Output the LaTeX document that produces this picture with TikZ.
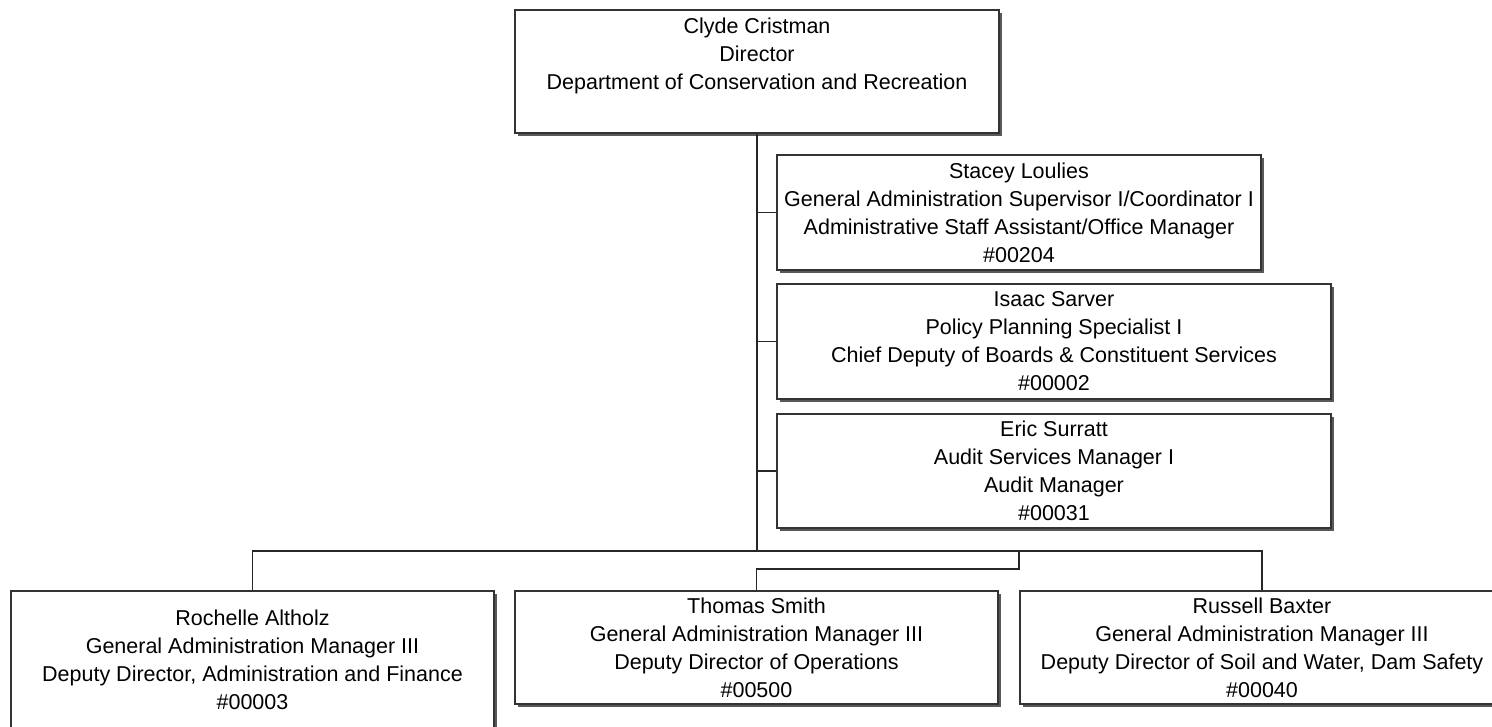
\documentclass[tikz,border=0pt]{standalone}
\usepackage{fontspec}
\setmainfont{Liberation Sans}
\usetikzlibrary{shadows}
\tikzset{
  orgbox/.style={draw=black!80, line width=1.6pt, fill=white, inner sep=0pt, align=center,
    font=\fontsize{21.5}{28}\selectfont,
    drop shadow={shadow xshift=3pt, shadow yshift=-3pt, fill=black!65, opacity=1}},
  link/.style={draw=black!85, line width=1.6pt}
}
\begin{document}
\begin{tikzpicture}[x=1pt,y=-1pt]
\useasboundingbox (0,0) rectangle (1492,726);
\clip (0,0) rectangle (1492,726);
\node[orgbox, minimum width=484pt, minimum height=123pt] (dir) at (757,71.5)
  {Clyde Cristman\\Director\\Department of Conservation and Recreation\\\strut};
\node[orgbox, minimum width=484pt, minimum height=115pt] (stacey) at (1019,212.5)
  {Stacey Loulies\\General Administration Supervisor I/Coordinator I\\Administrative Staff Assistant/Office Manager\\\#00204};
\node[orgbox, minimum width=554pt, minimum height=115pt] (isaac) at (1054,341.5)
  {Isaac Sarver\\Policy Planning Specialist I\\Chief Deputy of Boards \& Constituent Services\\\#00002};
\node[orgbox, minimum width=554pt, minimum height=114pt] (eric) at (1054,471)
  {Eric Surratt\\Audit Services Manager I\\Audit Manager\\\#00031};
\node[orgbox, minimum width=483pt, minimum height=138pt] (rochelle) at (252.5,660)
  {Rochelle Altholz\\General Administration Manager III\\Deputy Director, Administration and Finance\\\#00003};
\node[orgbox, minimum width=483pt, minimum height=113pt] (thomas) at (756.5,647.5)
  {Thomas Smith\\General Administration Manager III\\Deputy Director of Operations\\\#00500};
\node[orgbox, minimum width=484pt, minimum height=113pt] (baxter) at (1262,647.5)
  {Russell Baxter\\General Administration Manager III\\Deputy Director of Soil and Water, Dam Safety\\\#00040};
\coordinate (bus) at (757,551);
\coordinate (jn) at (1019,551);
\coordinate (jn2) at (1019,569);
\draw[link] (dir.south) -- (bus);
\draw[link] (stacey.west) -- (stacey.west -| bus);
\draw[link] (isaac.west) -- (isaac.west -| bus);
\draw[link] (eric.west) -- (eric.west -| bus);
\draw[link] (rochelle.north) |- (bus) -| (baxter.north);
\draw[link] (jn) -- (jn2) -| (thomas.north);
\end{tikzpicture}
\end{document}
